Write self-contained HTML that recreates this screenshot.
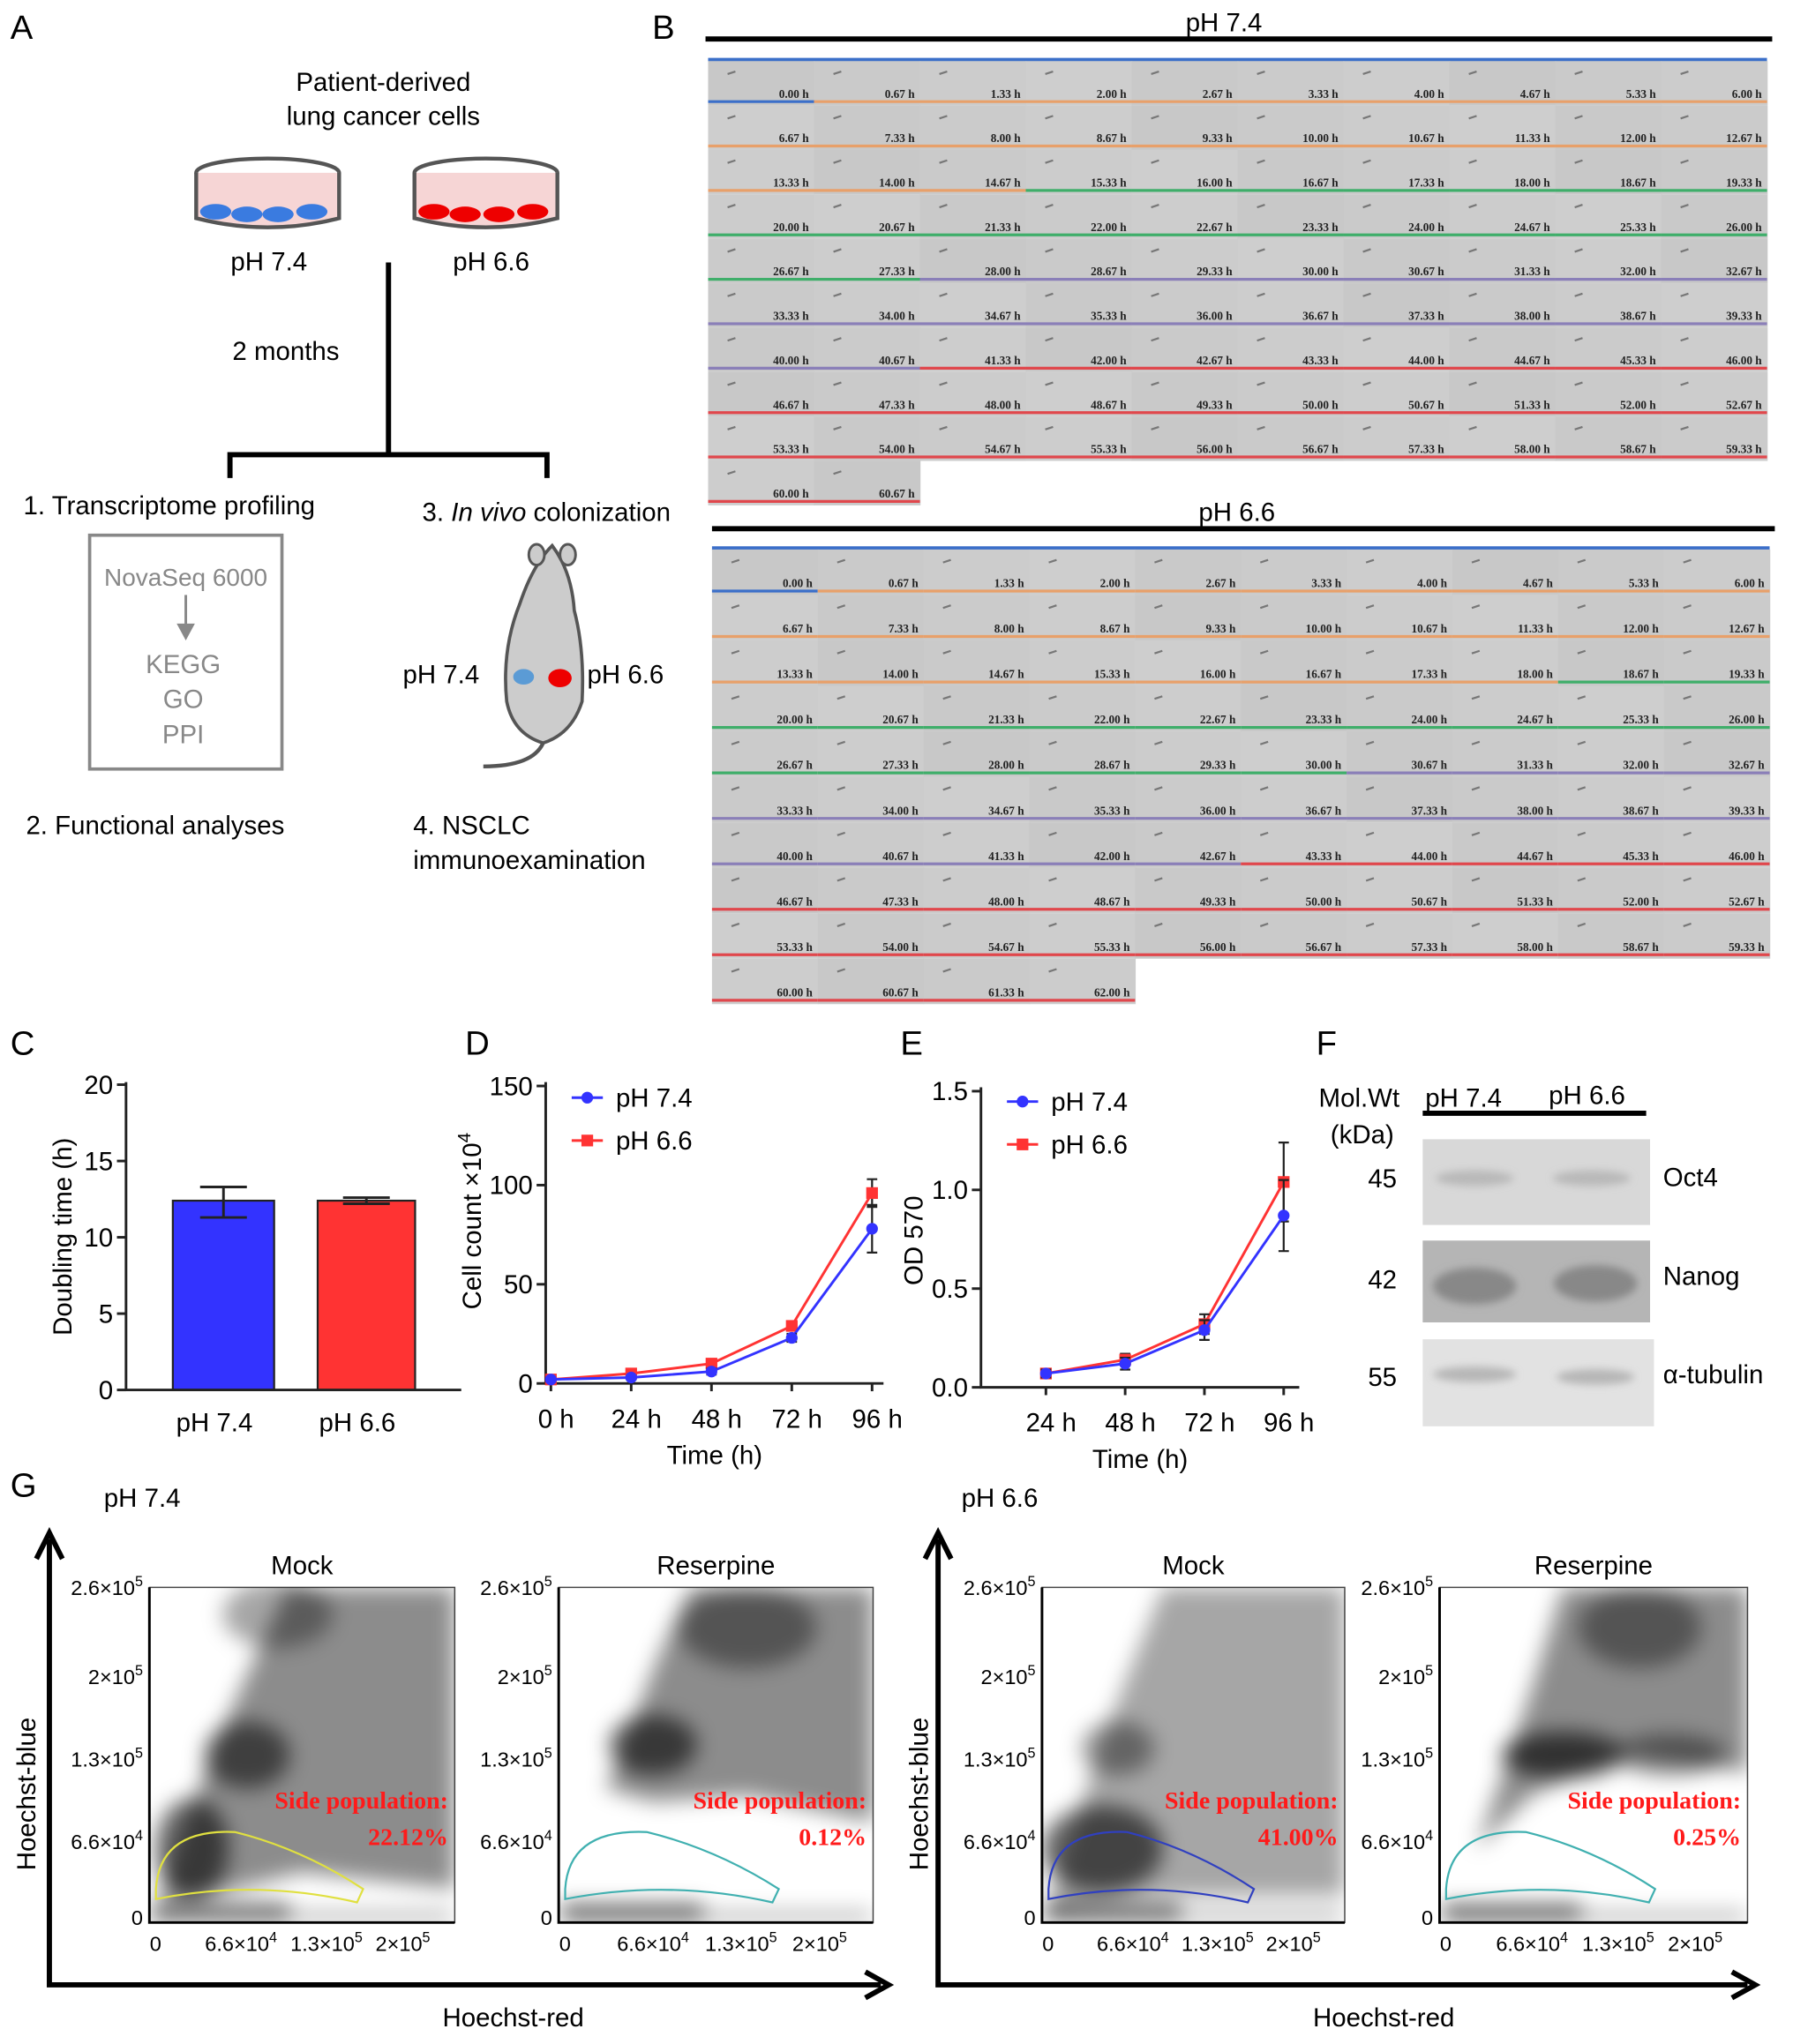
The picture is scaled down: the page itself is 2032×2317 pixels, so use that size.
<!DOCTYPE html>
<html><head><meta charset="utf-8"><style>
html,body{margin:0;padding:0;background:#fff}
svg{display:block}
text{font-family:"Liberation Sans",sans-serif}
.t{font-family:"Liberation Serif",serif;font-weight:bold;font-size:9px;fill:#222}
</style></head><body>
<svg id="fig" width="2032" height="2317" viewBox="0 0 1380 1573.5" xmlns="http://www.w3.org/2000/svg">
<defs id="defs">
<filter id="bl" x="-20%" y="-20%" width="140%" height="140%"><feGaussianBlur stdDeviation="8"/></filter>
<filter id="bl2"><feGaussianBlur stdDeviation="3"/></filter>
</defs>
<g>
<text x="8" y="30" font-size="26">A</text>
<text x="295" y="70" font-size="20" text-anchor="middle">Patient-derived</text>
<text x="295" y="96" font-size="20" text-anchor="middle">lung cancer cells</text>
<g>
<ellipse cx="206" cy="133" rx="55" ry="11" fill="none" stroke="#555" stroke-width="3"/>
<path d="M151 133 L151 168 Q206 182 261 168 L261 133" fill="#f6d5d5" stroke="#555" stroke-width="3"/>
<g fill="#3a7be0"><ellipse cx="166" cy="163" rx="12" ry="6"/><ellipse cx="190" cy="165" rx="12" ry="6"/><ellipse cx="214" cy="165" rx="12" ry="6"/><ellipse cx="240" cy="163" rx="12" ry="6"/></g>
</g>
<g>
<ellipse cx="374" cy="133" rx="55" ry="11" fill="none" stroke="#555" stroke-width="3"/>
<path d="M319 133 L319 168 Q374 182 429 168 L429 133" fill="#f6d5d5" stroke="#555" stroke-width="3"/>
<g fill="#e00"><ellipse cx="334" cy="163" rx="12" ry="6"/><ellipse cx="358" cy="165" rx="12" ry="6"/><ellipse cx="384" cy="165" rx="12" ry="6"/><ellipse cx="410" cy="163" rx="12" ry="6"/></g>
</g>
<text x="207" y="208" font-size="20" text-anchor="middle">pH 7.4</text>
<text x="378" y="208" font-size="20" text-anchor="middle">pH 6.6</text>
<text x="220" y="277" font-size="20" text-anchor="middle">2 months</text>
<path d="M299 202 V350 M177 368 V350 H421 V368" fill="none" stroke="#000" stroke-width="4"/>
<text x="18" y="396" font-size="20">1. Transcriptome profiling</text>
<text x="325" y="401" font-size="20">3. <tspan font-style="italic">In vivo</tspan> colonization</text>
<rect x="69" y="412" width="148" height="180" fill="none" stroke="#888" stroke-width="2.5"/>
<text x="143" y="451" font-size="19" fill="#888" text-anchor="middle">NovaSeq 6000</text>
<path d="M143 458 V485" stroke="#888" stroke-width="2"/><path d="M136 480 L143 493 L150 480Z" fill="#888"/>
<text x="141" y="518" font-size="20" fill="#888" text-anchor="middle">KEGG</text>
<text x="141" y="545" font-size="20" fill="#888" text-anchor="middle">GO</text>
<text x="141" y="572" font-size="20" fill="#888" text-anchor="middle">PPI</text>
<g>
<path d="M425 420 Q440 440 442 470 Q450 500 448 540 Q440 565 418 572 Q395 565 390 540 Q386 500 400 465 Q410 435 425 420Z" fill="#ccc" stroke="#555" stroke-width="2.5"/>
<ellipse cx="413" cy="427" rx="6" ry="8" fill="#ccc" stroke="#555" stroke-width="2"/>
<ellipse cx="437" cy="427" rx="6" ry="8" fill="#ccc" stroke="#555" stroke-width="2"/>
<path d="M418 572 Q410 590 372 590" fill="none" stroke="#555" stroke-width="3"/>
<ellipse cx="403" cy="521" rx="8" ry="6" fill="#5b9bd5"/>
<ellipse cx="431" cy="522" rx="9" ry="7" fill="#e00"/>
</g>
<text x="310" y="526" font-size="20">pH 7.4</text>
<text x="452" y="526" font-size="20">pH 6.6</text>
<text x="20" y="642" font-size="20">2. Functional analyses</text>
<text x="318" y="642" font-size="20">4. NSCLC</text>
<text x="318" y="669" font-size="20">immunoexamination</text>
</g>
<g id="pb">
<text x="502" y="30" font-size="26">B</text>
<text x="942" y="24" font-size="20" text-anchor="middle">pH 7.4</text>
<line x1="543" y1="30" x2="1364" y2="30" stroke="#000" stroke-width="4"/>
<text x="952" y="401" font-size="20" text-anchor="middle">pH 6.6</text>
<line x1="548" y1="407" x2="1366" y2="407" stroke="#000" stroke-width="4"/>
</g>
<g id="pc"><text x="8" y="812" font-size="26">C</text></g>
<g id="pd"><text x="358" y="812" font-size="26">D</text></g>
<g id="pe"><text x="693" y="812" font-size="26">E</text></g>
<g>
<text x="1013" y="812" font-size="26">F</text>
<text x="1015" y="852" font-size="20">Mol.Wt</text>
<text x="1024" y="880" font-size="20">(kDa)</text>
<text x="1097" y="852" font-size="20">pH 7.4</text>
<text x="1192" y="850" font-size="20">pH 6.6</text>
<line x1="1095" y1="857" x2="1267" y2="857" stroke="#000" stroke-width="4"/>
<rect x="1095" y="877" width="175" height="66" fill="#d8d8d8"/>
<rect x="1095" y="955" width="175" height="63" fill="#b5b5b5"/>
<rect x="1095" y="1031" width="178" height="67" fill="#e2e2e2"/>
<g filter="url(#bl2)" fill="#999">
<ellipse cx="1135" cy="907" rx="30" ry="6" opacity=".5"/><ellipse cx="1225" cy="907" rx="30" ry="6" opacity=".5"/>
<ellipse cx="1135" cy="990" rx="32" ry="14" fill="#888"/><ellipse cx="1228" cy="988" rx="32" ry="14" fill="#888"/>
<ellipse cx="1135" cy="1058" rx="32" ry="6" opacity=".6"/><ellipse cx="1228" cy="1060" rx="30" ry="6" opacity=".6"/>
</g>
<text x="1064" y="914" font-size="20" text-anchor="middle">45</text>
<text x="1064" y="992" font-size="20" text-anchor="middle">42</text>
<text x="1064" y="1067" font-size="20" text-anchor="middle">55</text>
<text x="1280" y="913" font-size="20">Oct4</text>
<text x="1280" y="989" font-size="20">Nanog</text>
<text x="1280" y="1065" font-size="20">α-tubulin</text>
</g>
<g id="pg">
<text x="8" y="1152" font-size="26">G</text>
<text x="80" y="1160" font-size="20">pH 7.4</text>
<text x="740" y="1160" font-size="20">pH 6.6</text>
<path d="M38 1185 V1528 H678" fill="none" stroke="#000" stroke-width="4"/>
<path d="M28 1200 L38 1180 L48 1200 M666 1518 L684 1528 L666 1538" fill="none" stroke="#000" stroke-width="4"/>
<path d="M722 1185 V1528 H1345" fill="none" stroke="#000" stroke-width="4"/>
<path d="M712 1200 L722 1180 L732 1200 M1333 1518 L1351 1528 L1333 1538" fill="none" stroke="#000" stroke-width="4"/>
<text x="395" y="1560" font-size="20" text-anchor="middle">Hoechst-red</text>
<text x="1065" y="1560" font-size="20" text-anchor="middle">Hoechst-red</text>
</g>
</svg>
<script>
var NS="http://www.w3.org/2000/svg";
function mk(p,tag,a,txt){var e=document.createElementNS(NS,tag);for(var k in a)e.setAttribute(k,a[k]);if(txt!=null)e.textContent=txt;p.appendChild(e);return e;}
var pb=document.getElementById('pb');
function grid(x0,y0,rowH,tileW,n,thr){
  var cols=['#3b6fc9','#e8a06a','#3fae6a','#8a7fb8','#e0474c'];
  for(var i=0;i<n;i++){
    var r=Math.floor(i/10),c=i%10,x=x0+c*tileW,y=y0+r*rowH;
    var t=i*2/3;
    var g=(i*37%7);
    var tile=mk(pb,'rect',{x:x,y:y,width:tileW+0.5,height:rowH,fill:'rgb('+(200+g)+','+(200+g)+','+(200+g)+')'});
    
    
    var ci=t<0.1?0:t<thr[0]?1:t<thr[1]?2:t<thr[2]?3:4;
    mk(pb,'line',{x1:x,y1:y+rowH-3,x2:x+tileW,y2:y+rowH-3,stroke:cols[ci],'stroke-width':2.2});
    mk(pb,'text',{x:x+tileW-4,y:y+rowH-6,'text-anchor':'end','class':'t'},t.toFixed(2)+' h');
    mk(pb,'path',{d:'M'+(x+15)+' '+(y+10)+' l6 -2',stroke:'#777','stroke-width':1.5});
  }
}
mk(pb,'line',{x1:545,y1:46,x2:1360,y2:46,stroke:'#3b6fc9','stroke-width':3});
grid(545,47,34.2,81.5,92,[15,27.5,41]);
mk(pb,'line',{x1:548,y1:422,x2:1362,y2:422,stroke:'#3b6fc9','stroke-width':3});
grid(548,423,35,81.4,94,[18.5,30.5,43]);
</script>
<script>
var cCats=['pH 7.4','pH 6.6'];
var cVals=[12.4,12.4];
var cErrLo=[11.3,12.2];
var cErrHi=[13.3,12.6];
var cTicks=[0,5,10,15,20];
(function(){
var p=document.getElementById('pc');
function y(v){return 1070-v*11.75;}
var cx=[172,282],w=[78,75],col=['#3333ff','#ff3333'];
for(var i=0;i<cCats.length;i++){
 var b=mk(p,'rect',{x:cx[i]-w[i]/2,y:y(cVals[i]),width:w[i],height:y(0)-y(cVals[i]),fill:col[i],stroke:'#222','stroke-width':1.5});
 
 
 mk(p,'path',{d:'M'+cx[i]+' '+y(cErrLo[i])+' V'+y(cErrHi[i])+' M'+(cx[i]-18)+' '+y(cErrHi[i])+' h36 M'+(cx[i]-18)+' '+y(cErrLo[i])+' h36',stroke:'#222','stroke-width':2,fill:'none'});
 mk(p,'text',{x:cx[i]-7,y:1102,'font-size':20,'text-anchor':'middle'},cCats[i]);
}
mk(p,'path',{d:'M97 833 V1070 H355',stroke:'#222','stroke-width':2,fill:'none'});
cTicks.forEach(function(t){mk(p,'line',{x1:90,y1:y(t),x2:97,y2:y(t),stroke:'#222','stroke-width':2});mk(p,'text',{x:87,y:y(t)+7,'font-size':20,'text-anchor':'end'},t);});
mk(p,'text',{x:0,y:0,'font-size':20,'text-anchor':'middle',transform:'translate(55,952) rotate(-90)'},'Doubling time (h)');
})();
</script>
<script>
var dCats=['0 h','24 h','48 h','72 h','96 h'];
var dBlue=[2,3,6,23,78];
var dRed=[2,5,10,29,96];
var dBlueErr=[1,1,1.5,2,12];
var dRedErr=[1,1,1.5,2,7];
var dTicks=[0,50,100,150];
var eCats=['24 h','48 h','72 h','96 h'];
var eBlue=[0.07,0.12,0.29,0.87];
var eRed=[0.07,0.14,0.32,1.04];
var eBlueErr=[0.02,0.03,0.05,0.18];
var eRedErr=[0.02,0.03,0.05,0.2];
var eTicks=[0,0.5,1.0,1.5];
function lineChart(id,cats,b,r,be,re,ticks,x0,dx,xAxis0,yz,yt,tmax,xEnd,leg){
 var p=document.getElementById(id);
 function X(i){return x0+i*dx;} function Y(v){return yz-v*(yz-yt)/tmax;}
 mk(p,'path',{d:'M'+xAxis0+' '+(yt-3)+' V'+yz+' H'+xEnd,stroke:'#222','stroke-width':2,fill:'none'});
 ticks.forEach(function(t){mk(p,'line',{x1:xAxis0-7,y1:Y(t),x2:xAxis0,y2:Y(t),stroke:'#222','stroke-width':2});mk(p,'text',{x:xAxis0-10,y:Y(t)+7,'font-size':20,'text-anchor':'end'},tmax<5?t.toFixed(1):t);});
 cats.forEach(function(c,i){mk(p,'line',{x1:X(i),y1:yz,x2:X(i),y2:yz+6,stroke:'#222','stroke-width':2});mk(p,'text',{x:X(i)+4,y:yz+34,'font-size':20,'text-anchor':'middle'},c);});
 [[r,re,'#ff3333','red'],[b,be,'#3333ff','blue']].forEach(function(s){
  var d='';s[0].forEach(function(v,i){d+=(i?'L':'M')+X(i)+' '+Y(v);});
  var l=mk(p,'path',{d:d,stroke:s[2],'stroke-width':2,fill:'none'});
  
  
  s[0].forEach(function(v,i){
   mk(p,'path',{d:'M'+X(i)+' '+Y(v-s[1][i])+' V'+Y(v+s[1][i])+' M'+(X(i)-4)+' '+Y(v-s[1][i])+' h8 M'+(X(i)-4)+' '+Y(v+s[1][i])+' h8',stroke:'#222','stroke-width':1.5});
   if(s[3]=='red')mk(p,'rect',{x:X(i)-4.5,y:Y(v)-4.5,width:9,height:9,fill:s[2]});else mk(p,'circle',{cx:X(i),cy:Y(v),r:4.5,fill:s[2]});
  });
 });
 var lx=leg[0],ly=leg[1];
 mk(p,'line',{x1:lx,y1:ly,x2:lx+24,y2:ly,stroke:'#3333ff','stroke-width':2});mk(p,'circle',{cx:lx+12,cy:ly,r:4.5,fill:'#3333ff'});
 mk(p,'text',{x:lx+34,y:ly+7,'font-size':20},'pH 7.4');
 mk(p,'line',{x1:lx,y1:ly+33,x2:lx+24,y2:ly+33,stroke:'#ff3333','stroke-width':2});mk(p,'rect',{x:lx+7.5,y:ly+28.5,width:9,height:9,fill:'#ff3333'});
 mk(p,'text',{x:lx+34,y:ly+40,'font-size':20},'pH 6.6');
 mk(p,'text',{x:(xAxis0+xEnd)/2,y:yz+62,'font-size':20,'text-anchor':'middle'},'Time (h)');
 return p;
}
var pd=lineChart('pd',dCats,dBlue,dRed,dBlueErr,dRedErr,dTicks,424,61.8,420,1065,836,150,680,[440,845]);
var tt=mk(pd,'text',{x:0,y:0,'font-size':20,'text-anchor':'middle',transform:'translate(370,940) rotate(-90)'},'Cell count ×10');
mk(tt,'tspan',{dy:-8,'font-size':14},'4');
var pe=lineChart('pe',eCats,eBlue,eRed,eBlueErr,eRedErr,eTicks,805,61,755,1068,840,1.5,1000,[775,848]);
mk(pe,'text',{x:0,y:0,'font-size':20,'text-anchor':'middle',transform:'translate(710,955) rotate(-90)'},'OD 570');
</script>
<script>
var plots=[
 {x:115,w:235,title:'Mock',sp:'22.12%',gate:'#e0e040',
  cloud:[[0.03,0.93],[0.2,0.5],[0.45,0],[1,0],[1,0.9],[0.5,0.85],[0.15,0.93]],op:0.45,
  knots:[[0.42,0.08,0.18,0.1,0.35],[0.32,0.5,0.14,0.1,0.55],[0.14,0.78,0.12,0.15,0.6]]},
 {x:430,w:242,title:'Reserpine',sp:'0.12%',gate:'#40b0b0',
  cloud:[[0.15,0.6],[0.32,0.2],[0.42,0],[1,0],[1,0.7],[0.6,0.62],[0.3,0.64]],op:0.45,
  knots:[[0.6,0.12,0.22,0.12,0.4],[0.3,0.47,0.14,0.09,0.6]]},
 {x:802,w:233,title:'Mock',sp:'41.00%',gate:'#3040c0',
  cloud:[[0.02,0.95],[0.2,0.45],[0.4,0],[1,0],[1,0.92],[0.4,0.92]],op:0.35,
  knots:[[0.25,0.48,0.12,0.08,0.4],[0.2,0.78,0.2,0.13,0.6]]},
 {x:1108,w:237,title:'Reserpine',sp:'0.25%',gate:'#40b0b0',
  cloud:[[0.12,0.78],[0.3,0.3],[0.4,0],[1,0],[1,0.55],[0.6,0.5],[0.3,0.62]],op:0.45,
  knots:[[0.65,0.12,0.2,0.12,0.4],[0.4,0.5,0.2,0.07,0.65],[0.75,0.5,0.18,0.06,0.45]]}];
var pg=document.getElementById('pg');
var defs=document.getElementById('defs');
plots.forEach(function(o,k){
 var y0=1222,h=258,x=o.x,w=o.w,g=mk(pg,'g',{});
 
 
 var cp=mk(defs,'clipPath',{id:'cp'+k});
 mk(cp,'rect',{x:x,y:y0,width:w,height:h});
 mk(g,'rect',{x:x,y:y0,width:w,height:h,fill:'#fff',stroke:'#444','stroke-width':1});
 var clip=mk(g,'g',{'clip-path':'url(#cp'+k+')'});
 var cl=mk(clip,'g',{filter:'url(#bl)'});
 var d='';o.cloud.forEach(function(p,i){d+=(i?'L':'M')+(x+p[0]*w)+' '+(y0+p[1]*h);});
 mk(cl,'path',{d:d+'Z',fill:'#000',opacity:o.op});
 o.knots.forEach(function(q){mk(cl,'ellipse',{cx:x+q[0]*w,cy:y0+q[1]*h,rx:q[2]*w,ry:q[3]*h,fill:'#000',opacity:q[4]});});
 mk(cl,'rect',{x:x+2,y:y0+h-14,width:w*0.45,height:12,fill:'#000',opacity:0.6});
 mk(cl,'rect',{x:x+2,y:y0+h-8,width:w-4,height:6,fill:'#000',opacity:0.4});
 mk(g,'text',{x:x+w/2,y:1212,'font-size':20,'text-anchor':'middle'},o.title);
 mk(g,'path',{d:'M'+(x+5)+' '+(y0+h*0.9)+' Q'+(x+8)+' '+(y0+h*0.72)+' '+(x+w*0.28)+' '+(y0+h*0.73)+' Q'+(x+w*0.5)+' '+(y0+h*0.78)+' '+(x+w*0.7)+' '+(y0+h*0.9)+' L'+(x+w*0.68)+' '+(y0+h*0.94)+' Q'+(x+w*0.35)+' '+(y0+h*0.87)+' '+(x+5)+' '+(y0+h*0.93)+'Z',fill:'none',stroke:o.gate,'stroke-width':1.5});
 mk(g,'path',{d:'M'+x+' '+y0+' V'+(y0+h)+' H'+(x+w),fill:'none',stroke:'#000','stroke-width':2});
 mk(g,'text',{x:x+w-5,y:y0+h*0.66,'font-size':19,fill:'#ff1a1a','font-weight':'bold','text-anchor':'end',style:'font-family:"Liberation Serif",serif'},'Side population:');
 mk(g,'text',{x:x+w-5,y:y0+h*0.66+28,'font-size':19,fill:'#ff1a1a','font-weight':'bold','text-anchor':'end',style:'font-family:"Liberation Serif",serif'},o.sp);
 var yl=[['2.6×10','5',0],['2×10','5',0.27],['1.3×10','5',0.52],['6.6×10','4',0.77],['0','',1]];
 yl.forEach(function(a){var t=mk(g,'text',{x:x-5,y:y0+a[2]*(h-4)+6,'font-size':16,'text-anchor':'end'},a[0]);if(a[1])mk(t,'tspan',{dy:-7,'font-size':11},a[1]);});
 var xl=[['0','',0.02],['6.6×10','4',0.3],['1.3×10','5',0.58],['2×10','5',0.83]];
 xl.forEach(function(a){var t=mk(g,'text',{x:x+a[2]*w,y:y0+h+22,'font-size':16,'text-anchor':'middle'},a[0]);if(a[1])mk(t,'tspan',{dy:-7,'font-size':11},a[1]);});
 if(k%2==0)mk(g,'text',{x:0,y:0,'font-size':20,'text-anchor':'middle',transform:'translate('+(x-88)+','+(y0+h/2+30)+') rotate(-90)'},'Hoechst-blue');
});
</script>
</body></html>
